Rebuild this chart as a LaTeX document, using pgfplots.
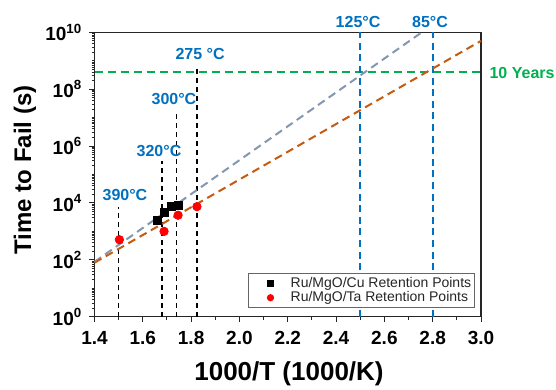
\documentclass[border=0pt]{standalone}
\usepackage{fontspec}
\setmainfont{Liberation Sans}
\usepackage{pgfplots}
\pgfplotsset{compat=1.18}
\definecolor{ablue}{HTML}{0070C0}
\definecolor{agreen}{HTML}{00B050}
\definecolor{aorange}{HTML}{C55A11}
\definecolor{agray}{HTML}{8497B0}
\begin{document}
\begin{tikzpicture}
\useasboundingbox (0,0) rectangle (278pt,195pt);
\begin{axis}[
  at={(47.25pt,36.65pt)}, anchor=south west,
  scale only axis, width=193.25pt, height=142.2pt,
  xmin=1.4, xmax=3.0, ymin=1, ymax=1e10,
  ymode=log,
  axis line style={black!85, line width=0.7pt},
  tick align=outside, tick pos=left,
  major tick length=2.6pt, minor tick length=1.5pt,
  every tick/.style={black!85, line width=0.5pt},
  xtick={1.4,1.6,1.8,2.0,2.2,2.4,2.6,2.8,3.0},
  xticklabels={1.4,1.6,1.8,2.0,2.2,2.4,2.6,2.8,3.0},
  minor xtick={1.5,1.7,1.9,2.1,2.3,2.5,2.7,2.9},
  ytick={1,1e2,1e4,1e6,1e8,1e10},
  yticklabels={10\textsuperscript{0},10\textsuperscript{2},10\textsuperscript{4},10\textsuperscript{6},10\textsuperscript{8},10\textsuperscript{10}},
  minor ytick={2,3,4,5,6,7,8,9,10,20,30,40,50,60,70,80,90,
    2e2,3e2,4e2,5e2,6e2,7e2,8e2,9e2,1e3,2e3,3e3,4e3,5e3,6e3,7e3,8e3,9e3,
    2e4,3e4,4e4,5e4,6e4,7e4,8e4,9e4,1e5,2e5,3e5,4e5,5e5,6e5,7e5,8e5,9e5,
    2e6,3e6,4e6,5e6,6e6,7e6,8e6,9e6,1e7,2e7,3e7,4e7,5e7,6e7,7e7,8e7,9e7,
    2e8,3e8,4e8,5e8,6e8,7e8,8e8,9e8,1e9,2e9,3e9,4e9,5e9,6e9,7e9,8e9,9e9},
  ticklabel style={font=\fontsize{9.5}{11}\selectfont\bfseries},
  xticklabel style={yshift=-1pt},
  clip=false,
  legend style={at={(1,0)}, anchor=south east, xshift=-3pt, yshift=4.3pt,
    font=\fontsize{7}{7}\selectfont, draw=black!60, line width=0.4pt,
    inner sep=1pt, row sep=-1pt, text=black!85,
    nodes={inner sep=0.7pt}},
  legend cell align=left,
]
% 10 years line
\addplot[forget plot, agreen, line width=1pt, dash pattern=on 4pt off 2.5pt] coordinates {(1.4,4e8) (3.0,4e8)};
% vertical temperature lines
\addplot[forget plot, black, line width=0.8pt, dash pattern=on 2.5pt off 2pt] coordinates {(1.500,1) (1.500,7.4e3)};
\addplot[forget plot, black, line width=0.8pt, dash pattern=on 2.5pt off 2pt] coordinates {(1.679,1) (1.679,2.95e5)};
\addplot[forget plot, black, line width=0.8pt, dash pattern=on 2.5pt off 2pt] coordinates {(1.740,1) (1.740,1.35e7)};
\addplot[forget plot, black, line width=0.8pt, dash pattern=on 2.5pt off 2pt] coordinates {(1.824,1) (1.824,5.1e8)};
\addplot[forget plot, ablue, line width=1pt, dash pattern=on 3.5pt off 2.3pt] coordinates {(2.5,1) (2.5,1e10)};
\addplot[forget plot, ablue, line width=1pt, dash pattern=on 3.5pt off 2.3pt] coordinates {(2.8,1) (2.8,1e10)};
% fit lines
\addplot[forget plot, agray, line width=1pt, dash pattern=on 4pt off 2.5pt] coordinates {(1.4,85) (2.755,1e10)};
\addplot[forget plot, aorange, line width=1pt, dash pattern=on 4pt off 2.5pt] coordinates {(1.4,79) (3.0,5e9)};
% data
\addplot[only marks, mark=square*, mark size=2pt, black,
  legend image code/.code={\path[draw=none,fill=none] (0cm,-0.05cm) rectangle (0.68cm,0.05cm);
    \draw[mark repeat=2,mark phase=2,mark size=1.5pt] plot coordinates {(0.05cm,0cm) (0.35cm,0cm) (0.65cm,0cm)};}] coordinates {
 (1.660,2450) (1.688,4800) (1.717,7400) (1.746,8300)};
\addlegendentry{Ru/MgO/Cu Retention Points}
\addplot[only marks, mark=*, mark size=2.1pt, red,
  legend image code/.code={\path[draw=none,fill=none] (0cm,-0.05cm) rectangle (0.68cm,0.05cm);
    \draw[mark repeat=2,mark phase=2,mark size=1.6pt] plot coordinates {(0.05cm,0cm) (0.35cm,0cm) (0.65cm,0cm)};}] coordinates {
 (1.503,510) (1.688,1000) (1.746,3700) (1.824,7400)};
\addlegendentry{Ru/MgO/Ta Retention Points}
% annotations
\begin{scope}[every node/.style={font=\fontsize{8}{9}\selectfont\bfseries, text=ablue, inner sep=0pt}]
\node at (axis cs:1.526,1.9e4) {390°C};
\node at (axis cs:1.667,6.7e5) {320°C};
\node at (axis cs:1.729,4.5e7) {300°C};
\node at (axis cs:1.837,1.7e9) {275 °C};
\node at (axis cs:2.491,2.3e10) {125°C};
\node at (axis cs:2.789,2.3e10) {85°C};
\node[text=agreen] at (axis cs:3.170,3.7e8) {10 Years};
\end{scope}
\end{axis}
\node[font=\fontsize{13}{15}\selectfont\bfseries] at (144.5pt,8pt) {1000/T (1000/K)};
\node[font=\fontsize{12}{14}\selectfont\bfseries, rotate=90] at (12.5pt,110pt) {Time to Fail (s)};
\end{tikzpicture}
\end{document}
